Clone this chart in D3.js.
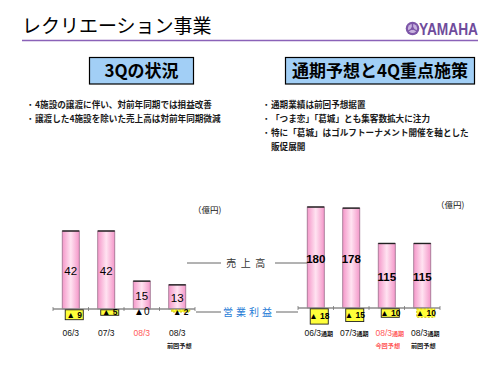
<!DOCTYPE html>
<html>
<head>
<meta charset="utf-8">
<script src="https://cdn.jsdelivr.net/npm/d3@7/dist/d3.min.js"></script>
<style>
  html, body { margin: 0; padding: 0; background: #fff; }
  svg { display: block; font-family: "Noto Sans CJK JP", "Noto Sans", sans-serif; }
</style>
</head>
<body>
<div id="chart"></div>
<script>
// ━━━━━━━━━━━━━━━━━━━━━━━━━━━━━━━━━━━━━━━━━━━━━━━━━━━━━━━━━━━━━━━━━━━━━━━━━━━
// Datos //////////////////////////////////////////////////////////////////////
// ━━━━━━━━━━━━━━━━━━━━━━━━━━━━━━━━━━━━━━━━━━━━━━━━━━━━━━━━━━━━━━━━━━━━━━━━━━━

const leftKeys    = ['06/3', '07/3', '08/3', '08/3p'];
const leftLabels  = ['06/3', '07/3', '08/3', '08/3'];
const leftSubs    = ['', '', '', '前回予想'];
const leftSales   = [42, 42, 15, 13];
const leftProfit  = [-9, -5, 0, -2];

const rightKeys   = ['06/3', '07/3', '08/3', '08/3p'];
const rightLabels = ['06/3', '07/3', '08/3', '08/3'];
const rightSubs   = ['', '', '今回予想', '前回予想'];
const rightSales  = [180, 178, 115, 115];
const rightProfit = [-18, -15, -10, -10];

const leftNotes  = ['4施設の譲渡に伴い、対前年同期では損益改善', '譲渡した4施設を除いた売上高は対前年同期微減'];
const rightNotes = ['通期業績は前回予想据置', '「つま恋」「葛城」とも集客数拡大に注力', '特に「葛城」はゴルフトーナメント開催を軸とした'];

const width = 500, height = 375;
const RED = '#ff5a5a';

const svg = d3.select('#chart').append('svg')
  .attr('width', width)
  .attr('height', height)
  .attr('viewBox', [0, 0, width, height]);

const defs = svg.append('defs');
const grad = defs.append('linearGradient').attr('id', 'barGrad').attr('x1', 0).attr('x2', 1).attr('y1', 0).attr('y2', 0);
grad.append('stop').attr('offset', '0%').attr('stop-color', '#f497c9');
grad.append('stop').attr('offset', '50%').attr('stop-color', '#ffe3f1');
grad.append('stop').attr('offset', '100%').attr('stop-color', '#f497c9');

// Cabecera //////////////////////////////////////////////////////////////////

svg.append('text').attr('x', 22).attr('y', 33)
  .attr('font-size', 19).attr('fill', '#000')
  .text('レクリエーション事業');

svg.append('line').attr('x1', 22).attr('x2', 478).attr('y1', 40.5).attr('y2', 40.5)
  .attr('stroke', '#8a62b8').attr('stroke-width', 1.6);

const logo = svg.append('g').attr('transform', 'translate(412.5,28.5)');
logo.append('circle').attr('r', 6.8).attr('fill', '#7d56a8');
logo.append('circle').attr('r', 4.6).attr('fill', '#c9b3df');
[0, 120, 240].forEach(a => {
  logo.append('line').attr('x1', 0).attr('y1', 0).attr('x2', 0).attr('y2', -5)
    .attr('stroke', '#7d56a8').attr('stroke-width', 1.4)
    .attr('transform', `rotate(${a})`);
});
logo.append('circle').attr('r', 1.6).attr('fill', '#7d56a8');

svg.append('text').attr('x', 419).attr('y', 35)
  .attr('font-family', '"Liberation Sans Narrow", "Liberation Sans", sans-serif')
  .attr('font-weight', 'bold').attr('font-size', 16)
  .attr('textLength', 59).attr('lengthAdjust', 'spacingAndGlyphs')
  .attr('fill', '#6f4c9c').text('YAMAHA');

// Cajas de título ////////////////////////////////////////////////////////////

function titleBox(x, w, label) {
  svg.append('rect').attr('x', x).attr('y', 57.5).attr('width', w).attr('height', 26.5)
    .attr('fill', '#a2cff6').attr('stroke', '#000').attr('stroke-width', 1.2);
  svg.append('text').attr('x', x + w / 2).attr('y', 71).attr('dy', '0.36em')
    .attr('text-anchor', 'middle').attr('font-size', 17).attr('font-weight', 'bold')
    .text(label);
}
titleBox(89.5, 104, '3Qの状況');
titleBox(285.5, 189, '通期予想と4Q重点施策');

function notes(x, y0, lines, extra) {
  lines.forEach((t, i) => {
    svg.append('text').attr('x', x).attr('y', y0 + i * 14).attr('dy', '0.35em')
      .attr('font-size', 8.5).attr('fill', '#111').text('・');
    svg.append('text').attr('x', x + 9).attr('y', y0 + i * 14).attr('dy', '0.35em')
      .attr('font-size', 8.6).attr('font-weight', 'bold').attr('fill', '#1a1a1a').text(t);
  });
  if (extra) {
    svg.append('text').attr('x', x + 9).attr('y', y0 + lines.length * 14).attr('dy', '0.35em')
      .attr('font-size', 8.6).attr('font-weight', 'bold').attr('fill', '#1a1a1a').text(extra);
  }
}
notes(26, 105, leftNotes);
notes(262, 105, rightNotes, '販促展開');

// Gráficos ///////////////////////////////////////////////////////////////////

function renderChart(cfg) {
  const g = svg.append('g');
  const x = d3.scaleBand().domain(cfg.keys).range(cfg.xRange).paddingInner(0.52).paddingOuter(0.26);
  const y = d3.scaleLinear().domain([0, cfg.salesMax]).range([cfg.base, cfg.salesTop]);
  const yp = d3.scaleLinear().domain([0, 10]).range([cfg.base, cfg.base + cfg.profitPx10]);
  const step = x.step();
  const rows = cfg.keys.map((k, i) => ({ k, i, sales: cfg.sales[i], profit: cfg.profit[i] }));

  // barras
  g.selectAll('rect.bar').data(rows).join('rect').attr('class', 'bar')
    .attr('x', d => x(d.k)).attr('width', x.bandwidth())
    .attr('y', d => y(d.sales)).attr('height', d => cfg.base - y(d.sales))
    .attr('fill', 'url(#barGrad)').attr('stroke', '#9a6f8c').attr('stroke-width', 0.8);
  g.selectAll('line.top').data(rows).join('line').attr('class', 'top')
    .attr('x1', d => x(d.k)).attr('x2', d => x(d.k) + x.bandwidth())
    .attr('y1', d => y(d.sales)).attr('y2', d => y(d.sales))
    .attr('stroke', '#222').attr('stroke-width', 1.4);
  g.selectAll('text.sales').data(rows).join('text').attr('class', 'sales')
    .attr('x', d => x(d.k) + x.bandwidth() / 2)
    .attr('y', d => (y(d.sales) + cfg.base) / 2 + 1).attr('dy', '0.36em')
    .attr('text-anchor', 'middle').attr('font-size', cfg.salesFont)
    .attr('font-weight', cfg.salesWeight)
    .attr('font-family', '"Liberation Sans", Arial, sans-serif')
    .text(d => d.sales);

  // eje
  const x0 = cfg.xRange[0], x1 = cfg.xRange[1];
  g.append('line').attr('x1', x0).attr('x2', x1).attr('y1', cfg.base).attr('y2', cfg.base)
    .attr('stroke', '#8c8c8c').attr('stroke-width', 1.6);
  g.selectAll('line.tick').data(d3.range(cfg.keys.length + 1)).join('line').attr('class', 'tick')
    .attr('x1', i => x0 + i * step).attr('x2', i => x0 + i * step)
    .attr('y1', cfg.base - 2).attr('y2', cfg.base + 2)
    .attr('stroke', '#777').attr('stroke-width', 0.8);

  // beneficio operativo
  const off = cfg.boxOffset;
  const bw = x.bandwidth() + 1;
  const boxes = rows.filter(d => d.profit !== 0);
  g.selectAll('rect.profit').data(boxes).join('rect').attr('class', 'profit')
    .attr('x', d => x(d.k) + off).attr('width', bw)
    .attr('y', cfg.base + 0.8).attr('height', d => yp(-d.profit) - cfg.base)
    .attr('fill', '#ffff3a')
    .attr('stroke', d => cfg.dashed[d.i] ? '#c9b800' : '#222')
    .attr('stroke-width', 0.9)
    .attr('stroke-dasharray', d => cfg.dashed[d.i] ? '2,1.5' : null);
  g.selectAll('text.profit').data(rows).join('text').attr('class', 'profit')
    .attr('x', d => x(d.k) + (d.profit === 0 ? x.bandwidth() / 2 : off + bw / 2))
    .attr('y', d => d.profit === 0 ? cfg.base + 2 : Math.max((cfg.base + yp(-d.profit)) / 2 + 0.5, cfg.base + 3))
    .attr('dy', '0.36em').attr('text-anchor', 'middle')
    .attr('font-size', d => d.profit === 0 ? 10 : 8.5)
    .attr('font-family', '"Liberation Sans", Arial, sans-serif')
    .attr('font-weight', d => d.profit === 0 ? 'normal' : 'bold')
    .text(d => d.profit === 0 ? '▲0' : '▲ ' + Math.abs(d.profit));

  // etiquetas de categoría
  const lab = g.selectAll('text.cat').data(rows).join('text').attr('class', 'cat')
    .attr('x', d => x(d.k) + x.bandwidth() / 2 + (cfg.suffix ? 3 : 0))
    .attr('y', 333).attr('dy', '0.35em').attr('text-anchor', 'middle')
    .attr('font-family', '"Liberation Sans", Arial, sans-serif')
    .attr('font-size', 8.5)
    .attr('fill', d => d.i === 2 ? RED : '#111');
  lab.append('tspan').text(d => cfg.labels[d.i]);
  if (cfg.suffix) {
    lab.append('tspan').attr('font-size', 6).attr('font-weight', 'bold')
      .attr('font-family', '"Noto Sans CJK JP", sans-serif').text(cfg.suffix);
  }
  g.selectAll('text.sub').data(rows.filter(d => cfg.subs[d.i])).join('text').attr('class', 'sub')
    .attr('x', d => x(d.k) + x.bandwidth() / 2 + (cfg.suffix ? 1 : 2))
    .attr('y', 345.5).attr('dy', '0.35em').attr('text-anchor', 'middle')
    .attr('font-size', 6.2).attr('font-weight', 'bold')
    .attr('fill', d => d.i === 2 ? RED : '#222')
    .text(d => cfg.subs[d.i]);

  // unidad
  svg.append('text').attr('x', cfg.unitX).attr('y', cfg.unitY).attr('dy', '0.35em')
    .attr('font-size', 8.5).attr('fill', '#111').text('（億円)');
}

renderChart({
  keys: leftKeys, labels: leftLabels, subs: leftSubs, sales: leftSales, profit: leftProfit,
  xRange: [53, 195], base: 309, salesMax: 42, salesTop: 231, profitPx10: 11,
  salesFont: 11.5, salesWeight: 'normal', boxOffset: 3, dashed: [false, false, false, true],
  unitX: 193, unitY: 210
});

renderChart({
  keys: rightKeys, labels: rightLabels, subs: rightSubs, sales: rightSales, profit: rightProfit,
  xRange: [298, 440], base: 308, salesMax: 180, salesTop: 207, profitPx10: 8.5,
  salesFont: 11.5, salesWeight: 'bold', boxOffset: 3, dashed: [false, false, false, true],
  suffix: '通期', unitX: 436, unitY: 205
});

// Leyenda central ///////////////////////////////////////////////////////////

svg.append('line').attr('x1', 187).attr('x2', 221).attr('y1', 263).attr('y2', 263)
  .attr('stroke', '#555').attr('stroke-width', 0.9);
svg.append('line').attr('x1', 275).attr('x2', 307).attr('y1', 263).attr('y2', 263)
  .attr('stroke', '#555').attr('stroke-width', 0.9);
svg.append('text').attr('x', 248).attr('y', 263).attr('dy', '0.36em').attr('text-anchor', 'middle')
  .attr('font-size', 10).attr('letter-spacing', 4.5).attr('fill', '#333').text('売上高');

svg.append('line').attr('x1', 196).attr('x2', 221).attr('y1', 312).attr('y2', 312)
  .attr('stroke', '#555').attr('stroke-width', 0.9);
svg.append('line').attr('x1', 276).attr('x2', 298).attr('y1', 312).attr('y2', 312)
  .attr('stroke', '#555').attr('stroke-width', 0.9);
svg.append('text').attr('x', 249).attr('y', 312).attr('dy', '0.36em').attr('text-anchor', 'middle')
  .attr('font-size', 10).attr('letter-spacing', 3).attr('fill', '#1f7bd6').text('営業利益');
</script>
</body>
</html>
